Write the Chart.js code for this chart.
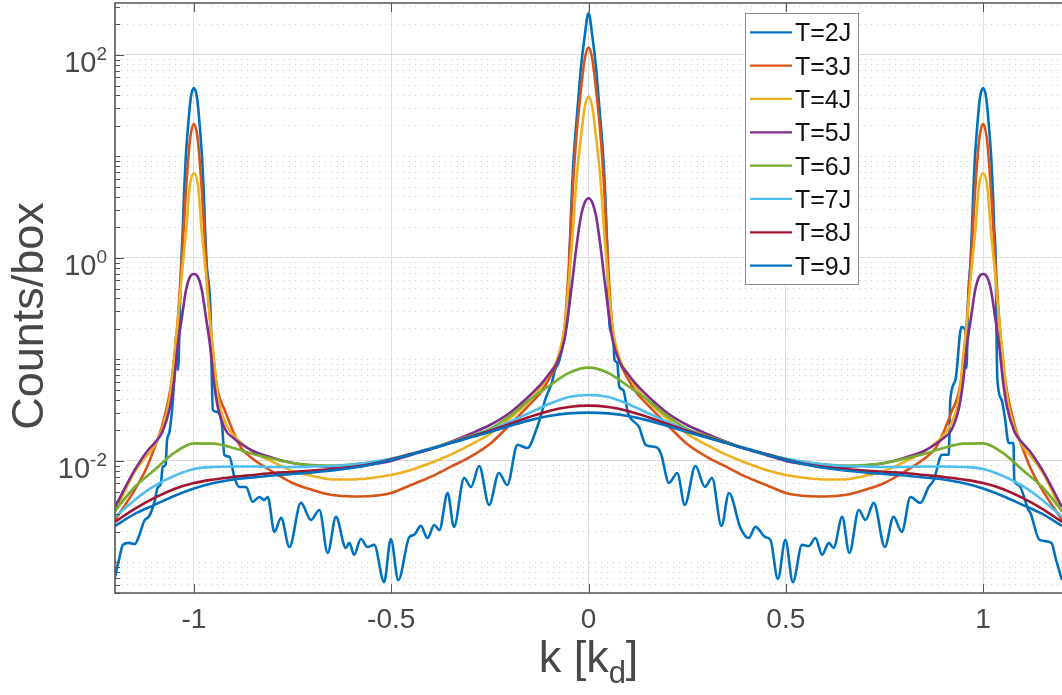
<!DOCTYPE html>
<html>
<head>
<meta charset="utf-8">
<script src="https://cdn.jsdelivr.net/npm/chart.js@4/dist/chart.umd.min.js"></script>
<style>
  html, body { margin: 0; padding: 0; background: #fff; }
  #wrap { width: 1062px; height: 695px; position: relative; }
</style>
</head>
<body>
<div id="wrap"><canvas id="grafico"></canvas></div>
<script>
const seriesLabels = ['T=2J', 'T=3J', 'T=4J', 'T=5J', 'T=6J', 'T=7J', 'T=8J', 'T=9J'];
const seriesColors = ['#0072BD', '#D95319', '#EDB120', '#7E2F8E', '#77AC30', '#4DBEEE', '#A2142F', '#0072BD'];

const xTicks = [-1, -0.5, 0, 0.5, 1];
const xTickLabels = ['-1', '-0.5', '0', '0.5', '1'];
const yTickExponents = [-2, 0, 2];
const xTitle = ['k [k', 'd', ']'];
const yTitle = 'Counts/box';

// T=2J, read point by point (oscillating curve)
const kT2 = [
  -1.2, -1.19, -1.18, -1.165, -1.15, -1.138, -1.126, -1.113, -1.1, -1.092,
  -1.084, -1.079, -1.072, -1.068, -1.062, -1.05, -1.045, -1.04, -1.035, -1.032,
  -1.028, -1.025, -1.021, -1.015, -1.008, -1.0, -0.992, -0.985, -0.979, -0.975,
  -0.972, -0.968, -0.957, -0.955, -0.952, -0.94, -0.928, -0.923, -0.91, -0.897,
  -0.885, -0.868, -0.851, -0.834, -0.822, -0.813, -0.796, -0.779, -0.758, -0.729,
  -0.703, -0.682, -0.661, -0.64, -0.615, -0.606, -0.594, -0.577, -0.56, -0.543,
  -0.518, -0.501, -0.482, -0.454, -0.442, -0.425, -0.408, -0.391, -0.378, -0.357,
  -0.341, -0.315, -0.298, -0.277, -0.252, -0.227, -0.206, -0.18, -0.155, -0.13,
  -0.12, -0.11, -0.1, -0.093, -0.085, -0.075, -0.065, -0.058, -0.05, -0.048,
  -0.046, -0.043, -0.039, -0.033, -0.026, -0.019, -0.01, 0,
  0.01, 0.019, 0.026, 0.033, 0.039, 0.043, 0.046, 0.048, 0.05, 0.055,
  0.062, 0.066, 0.073, 0.078, 0.088, 0.1, 0.128, 0.145, 0.17, 0.183,
  0.204, 0.225, 0.244, 0.271, 0.295, 0.313, 0.337, 0.356, 0.385, 0.406,
  0.423, 0.448, 0.461, 0.48, 0.499, 0.518, 0.541, 0.558, 0.575, 0.592,
  0.609, 0.621, 0.643, 0.661, 0.685, 0.702, 0.723, 0.751, 0.773, 0.794,
  0.816, 0.841, 0.862, 0.875, 0.896, 0.913, 0.917, 0.93, 0.945, 0.955,
  0.958, 0.962, 0.968, 0.972, 0.975, 0.979, 0.985, 0.992, 1.0, 1.008,
  1.015, 1.021, 1.025, 1.028, 1.032, 1.034, 1.036, 1.047, 1.055, 1.065,
  1.077, 1.079, 1.09, 1.115, 1.12, 1.143, 1.173, 1.185, 1.2
];
const countsT2 = [
  0.00072, 0.00106, 0.00149, 0.00156, 0.00152, 0.00187, 0.00256, 0.00287, 0.00395, 0.00542,
  0.00593, 0.00873, 0.00913, 0.0161, 0.0193, 0.0628, 0.174, 0.0788, 0.386, 0.913,
  2.02, 4.37, 9.24, 19.5, 37.7, 47.3, 37.7, 19.5, 9.24, 4.37,
  2.02, 0.913, 0.229, 0.0788, 0.0318, 0.0304, 0.0211, 0.0115, 0.0110, 0.0068,
  0.00554, 0.00554, 0.00395, 0.00442, 0.00413, 0.00442, 0.00200, 0.00275, 0.00142, 0.00386,
  0.00262, 0.00329, 0.00124, 0.00281, 0.00139, 0.00156, 0.00119, 0.00170, 0.00142, 0.00149,
  0.00064, 0.00170, 0.00067, 0.00178, 0.00187, 0.00229, 0.00174, 0.00234, 0.00209, 0.00484,
  0.00224, 0.00680, 0.00554, 0.00893, 0.00369, 0.00762, 0.00580, 0.0144, 0.0134, 0.0216,
  0.0284, 0.0399, 0.0501, 0.0587, 0.0788, 0.0945, 0.139, 0.195, 0.422, 1.12,
  1.76, 3.73, 7.88, 17.0, 36.0, 76.2, 150, 259,
  150, 76.2, 36.0, 17.0, 7.88, 3.73, 1.76, 1.12, 0.422, 0.195,
  0.174, 0.0989, 0.0924, 0.0536, 0.0501, 0.0297, 0.0216, 0.0144, 0.0137, 0.0120,
  0.00607, 0.00762, 0.00369, 0.00893, 0.00554, 0.00680, 0.00229, 0.00484, 0.00219, 0.00174,
  0.00224, 0.00178, 0.00167, 0.00069, 0.00167, 0.00064, 0.00149, 0.00145, 0.00174, 0.00119,
  0.00156, 0.00139, 0.00281, 0.00124, 0.00329, 0.00262, 0.00386, 0.00142, 0.00281, 0.00200,
  0.00442, 0.00386, 0.00554, 0.00650, 0.0115, 0.0115, 0.0399, 0.0628, 0.209, 0.195,
  0.0825, 0.386, 0.913, 2.02, 4.37, 9.24, 19.5, 37.7, 47.3, 37.7,
  19.5, 9.24, 4.37, 2.02, 0.913, 0.182, 0.0657, 0.0399, 0.0271, 0.0150,
  0.0150, 0.0065, 0.0058, 0.00329, 0.00307, 0.00167, 0.00156, 0.00106, 0.00067
];

// T=3J..5J, denser near the three peaks
const kPeak = [
  -1.2, -1.15, -1.12, -1.1, -1.08, -1.06, -1.05, -1.04, -1.03, -1.02,
  -1.01, -1.0, -0.99, -0.98, -0.97, -0.96, -0.95, -0.94, -0.92, -0.9,
  -0.88, -0.85, -0.8, -0.75, -0.7, -0.65, -0.6, -0.55, -0.5, -0.45,
  -0.4, -0.35, -0.3, -0.25, -0.2, -0.15, -0.12, -0.1, -0.08, -0.06,
  -0.05, -0.04, -0.03, -0.02, -0.01, 0,
  0.01, 0.02, 0.03, 0.04, 0.05, 0.06, 0.08, 0.1, 0.12, 0.15,
  0.2, 0.25, 0.3, 0.35, 0.4, 0.45, 0.5, 0.55, 0.6, 0.65,
  0.7, 0.75, 0.8, 0.85, 0.88, 0.9, 0.92, 0.94, 0.95, 0.96,
  0.97, 0.98, 0.99, 1.0, 1.01, 1.02, 1.03, 1.04, 1.05, 1.06,
  1.08, 1.1, 1.12, 1.15, 1.2
];
const countsT3 = [
  0.00262, 0.00518, 0.00853, 0.0134, 0.0226, 0.0500, 0.0989, 0.274, 1.07, 4.68,
  14.5, 20.9, 14.5, 4.68, 1.07, 0.274, 0.0989, 0.0500, 0.0304, 0.0193,
  0.0134, 0.01046, 0.00779, 0.00607, 0.00518, 0.00462, 0.00447, 0.00452, 0.00484, 0.00580,
  0.00696, 0.00873, 0.01095, 0.0147, 0.0226, 0.0357, 0.0479, 0.0643, 0.0944, 0.219,
  0.834, 4.68, 17.1, 42.3, 89.3, 118,
  89.3, 42.3, 17.1, 4.68, 0.834, 0.219, 0.0944, 0.0643, 0.0479, 0.0357,
  0.0226, 0.0147, 0.01095, 0.00873, 0.00696, 0.00580, 0.00484, 0.00452, 0.00447, 0.00462,
  0.00518, 0.00607, 0.00779, 0.01046, 0.0134, 0.0193, 0.0304, 0.0500, 0.0989, 0.274,
  1.07, 4.68, 14.5, 20.9, 14.5, 4.68, 1.07, 0.274, 0.0989, 0.0500,
  0.0226, 0.0134, 0.00853, 0.00518, 0.00262
];
const countsT4 = [
  0.00315, 0.00779, 0.01120, 0.01406, 0.0211, 0.0447, 0.111, 0.257, 0.728, 1.80,
  5.24, 6.83, 5.24, 1.80, 0.728, 0.257, 0.111, 0.0447, 0.0237, 0.0180,
  0.0150, 0.01227, 0.00978, 0.00797, 0.00712, 0.00657, 0.00657, 0.00680, 0.00728, 0.00815,
  0.00956, 0.01146, 0.01438, 0.0185, 0.0260, 0.0390, 0.0536, 0.0720, 0.0989, 0.219,
  0.568, 1.76, 6.14, 14.5, 30.1, 38.8,
  30.1, 14.5, 6.14, 1.76, 0.568, 0.219, 0.0989, 0.0720, 0.0536, 0.0390,
  0.0260, 0.0185, 0.01438, 0.01146, 0.00956, 0.00815, 0.00728, 0.00680, 0.00657, 0.00657,
  0.00712, 0.00797, 0.00978, 0.01227, 0.0150, 0.0180, 0.0237, 0.0447, 0.111, 0.257,
  0.728, 1.80, 5.24, 6.83, 5.24, 1.80, 0.728, 0.257, 0.111, 0.0447,
  0.0211, 0.01406, 0.01120, 0.00779, 0.00315
];
const countsT5 = [
  0.00352, 0.00815, 0.01227, 0.0150, 0.0193, 0.0348, 0.0628, 0.1455, 0.268, 0.484,
  0.650, 0.695, 0.650, 0.484, 0.268, 0.1455, 0.0628, 0.0348, 0.0202, 0.01685,
  0.0147, 0.01254, 0.01071, 0.00956, 0.00903, 0.00873, 0.00873, 0.00924, 0.0100, 0.01146,
  0.0131, 0.0154, 0.0185, 0.0226, 0.0297, 0.0437, 0.0574, 0.0720, 0.0924, 0.163,
  0.308, 0.635, 1.34, 2.48, 3.48, 3.87,
  3.48, 2.48, 1.34, 0.635, 0.308, 0.163, 0.0924, 0.0720, 0.0574, 0.0437,
  0.0297, 0.0226, 0.0185, 0.0154, 0.0131, 0.01146, 0.0100, 0.00924, 0.00873, 0.00873,
  0.00903, 0.00956, 0.01071, 0.01254, 0.0147, 0.01685, 0.0202, 0.0348, 0.0628, 0.1455,
  0.268, 0.484, 0.650, 0.695, 0.650, 0.484, 0.268, 0.1455, 0.0628, 0.0348,
  0.0193, 0.0150, 0.01227, 0.00815, 0.00352
];

// T=6J..9J, smooth curves
const kSmooth = [
  -1.2, -1.15, -1.1, -1.05, -1.0, -0.95, -0.9, -0.85, -0.8, -0.75,
  -0.7, -0.65, -0.6, -0.55, -0.5, -0.45, -0.4, -0.35, -0.3, -0.25,
  -0.2, -0.15, -0.1, -0.05, 0, 0.05, 0.1, 0.15, 0.2, 0.25,
  0.3, 0.35, 0.4, 0.45, 0.5, 0.55, 0.6, 0.65, 0.7, 0.75,
  0.8, 0.85, 0.9, 0.95, 1.0, 1.05, 1.1, 1.15, 1.2
];
const countsT6 = [
  0.00322, 0.00554, 0.00815, 0.0120, 0.0149, 0.0148, 0.0134, 0.0117, 0.0105, 0.00956,
  0.00913, 0.00903, 0.00924, 0.00966, 0.0105, 0.0117, 0.0133, 0.0152, 0.0176, 0.0207,
  0.0277, 0.0399, 0.0548, 0.0736, 0.0830, 0.0736, 0.0548, 0.0399, 0.0277, 0.0207,
  0.0176, 0.0152, 0.0133, 0.0117, 0.0105, 0.00966, 0.00924, 0.00903, 0.00913, 0.00956,
  0.0105, 0.0117, 0.0134, 0.0148, 0.0149, 0.0120, 0.00815, 0.00554, 0.00322
];
const countsT7 = [
  0.00281, 0.00413, 0.00567, 0.00712, 0.00834, 0.00873, 0.00883, 0.00883, 0.00873, 0.00873,
  0.00883, 0.00893, 0.00924, 0.00978, 0.0105, 0.0117, 0.0133, 0.0150, 0.0172, 0.0202,
  0.0242, 0.0297, 0.0364, 0.0427, 0.0447, 0.0427, 0.0364, 0.0297, 0.0242, 0.0202,
  0.0172, 0.0150, 0.0133, 0.0117, 0.0105, 0.00978, 0.00924, 0.00893, 0.00883, 0.00873,
  0.00873, 0.00883, 0.00883, 0.00873, 0.00834, 0.00712, 0.00567, 0.00413, 0.00281
];
const countsT8 = [
  0.00251, 0.00337, 0.00432, 0.00530, 0.00607, 0.00657, 0.00696, 0.00728, 0.00762, 0.00779,
  0.00806, 0.00834, 0.00873, 0.00934, 0.01035, 0.0117, 0.0131, 0.0150, 0.0172, 0.0198,
  0.0231, 0.0271, 0.0311, 0.0340, 0.0351, 0.0340, 0.0311, 0.0271, 0.0231, 0.0198,
  0.0172, 0.0150, 0.0131, 0.0117, 0.01035, 0.00934, 0.00873, 0.00834, 0.00806, 0.00779,
  0.00762, 0.00728, 0.00696, 0.00657, 0.00607, 0.00530, 0.00432, 0.00337, 0.00251
];
const countsT9 = [
  0.00229, 0.00301, 0.00369, 0.00452, 0.00536, 0.00607, 0.00657, 0.00688, 0.00720, 0.00745,
  0.00770, 0.00806, 0.00853, 0.00924, 0.01023, 0.0116, 0.0131, 0.0150, 0.0170, 0.0193,
  0.0221, 0.0251, 0.0277, 0.0294, 0.0299, 0.0294, 0.0277, 0.0251, 0.0221, 0.0193,
  0.0170, 0.0150, 0.0131, 0.0116, 0.01023, 0.00924, 0.00853, 0.00806, 0.00770, 0.00745,
  0.00720, 0.00688, 0.00657, 0.00607, 0.00536, 0.00452, 0.00369, 0.00301, 0.00229
];

const yMin = 5.0e-4;
const yMax = 325;
const fuente = "'Liberation Sans', Arial, Helvetica, sans-serif";
const grisEje = '#555555';
const grisTexto = '#484848';

function esMayor(v) {
  const e = Math.log10(v);
  return yTickExponents.some(t => Math.abs(e - t) < 1e-6);
}

const series = [
  [kT2, countsT2], [kPeak, countsT3], [kPeak, countsT4], [kPeak, countsT5],
  [kSmooth, countsT6], [kSmooth, countsT7], [kSmooth, countsT8], [kSmooth, countsT9]
];

const datasets = series.map(([ks, vs], i) => ({
  label: seriesLabels[i],
  data: ks.map((k, j) => ({ x: k, y: vs[j] })),
  borderColor: seriesColors[i],
  backgroundColor: seriesColors[i],
  borderWidth: 2.6,
  pointRadius: 0,
  fill: false,
  cubicInterpolationMode: 'monotone',
  order: series.length - i
}));

const decoracion = {
  id: 'decoracion',
  afterDatasetsDraw(chart) {
    const { ctx, chartArea: a, scales: { x, y } } = chart;
    ctx.save();

    // inward tick marks
    ctx.strokeStyle = grisEje;
    ctx.lineWidth = 1;
    ctx.beginPath();
    xTicks.forEach(v => {
      const px = Math.round(x.getPixelForValue(v)) + 0.5;
      ctx.moveTo(px, a.bottom); ctx.lineTo(px, a.bottom - 9);
      ctx.moveTo(px, a.top); ctx.lineTo(px, a.top + 9);
    });
    y.ticks.forEach(t => {
      const py = Math.round(y.getPixelForValue(t.value)) + 0.5;
      const len = esMayor(t.value) ? 9 : 5;
      ctx.moveTo(a.left, py); ctx.lineTo(a.left + len, py);
    });
    ctx.stroke();

    // axes box
    ctx.lineWidth = 1.6;
    ctx.beginPath();
    ctx.moveTo(a.right, a.top);
    ctx.lineTo(a.left, a.top);
    ctx.lineTo(a.left, a.bottom);
    ctx.lineTo(a.right, a.bottom);
    ctx.stroke();

    // y tick labels 10^e
    ctx.fillStyle = grisTexto;
    ctx.textAlign = 'right';
    ctx.textBaseline = 'alphabetic';
    yTickExponents.forEach(e => {
      const py = y.getPixelForValue(Math.pow(10, e));
      const sup = String(e);
      const right = a.left - 8;
      ctx.font = '19px ' + fuente;
      ctx.fillText(sup, right, py + 5);
      const w = ctx.measureText(sup).width;
      ctx.font = '29px ' + fuente;
      ctx.fillText('10', right - w, py + 17);
    });

    // y title
    ctx.font = '45px ' + fuente;
    ctx.textAlign = 'center';
    ctx.save();
    ctx.translate(a.left - 72, (a.top + a.bottom) / 2 + 18);
    ctx.rotate(-Math.PI / 2);
    ctx.fillText(yTitle, 0, 0);
    ctx.restore();

    // x title with subscript
    const base = a.bottom + 79;
    ctx.textAlign = 'left';
    ctx.font = '45px ' + fuente;
    const w1 = ctx.measureText(xTitle[0]).width;
    const w3 = ctx.measureText(xTitle[2]).width;
    ctx.font = '31px ' + fuente;
    const w2 = ctx.measureText(xTitle[1]).width;
    let x0 = (a.left + a.right) / 2 - (w1 + w2 + w3) / 2;
    ctx.font = '45px ' + fuente;
    ctx.fillText(xTitle[0], x0, base);
    ctx.font = '31px ' + fuente;
    ctx.fillText(xTitle[1], x0 + w1, base + 11);
    ctx.font = '45px ' + fuente;
    ctx.fillText(xTitle[2], x0 + w1 + w2, base);

    ctx.restore();
  },
  afterDraw(chart) {
    const { ctx } = chart;
    ctx.save();
    const box = { left: 745, top: 13, width: 113, height: 271 };
    ctx.fillStyle = '#ffffff';
    ctx.fillRect(box.left, box.top, box.width, box.height);
    ctx.strokeStyle = '#8c8c8c';
    ctx.lineWidth = 1;
    ctx.strokeRect(box.left + 0.5, box.top + 0.5, box.width, box.height);
    ctx.font = '25px ' + fuente;
    ctx.textAlign = 'left';
    ctx.textBaseline = 'alphabetic';
    chart.data.datasets.forEach((ds, i) => {
      const cy = box.top + 19.3 + 33.33 * i;
      ctx.strokeStyle = ds.borderColor;
      ctx.lineWidth = 2.2;
      ctx.beginPath();
      ctx.moveTo(750, cy);
      ctx.lineTo(792, cy);
      ctx.stroke();
      ctx.fillStyle = '#111111';
      ctx.fillText(ds.label, 795, cy + 9);
    });
    ctx.restore();
  }
};

const ctx = document.getElementById('grafico').getContext('2d');
window.grafico = new Chart(ctx, {
  type: 'line',
  data: { datasets },
  plugins: [decoracion],
  options: {
    responsive: true,
    maintainAspectRatio: false,
    animation: false,
    events: [],
    layout: { padding: { left: 0, right: 0, top: 3, bottom: 0 } },
    plugins: {
      legend: { display: false },
      tooltip: { enabled: false }
    },
    scales: {
      x: {
        type: 'linear',
        min: -1.2,
        max: 1.2,
        afterBuildTicks: s => { s.ticks = xTicks.map(v => ({ value: v })); },
        afterFit: s => { s.height = 102; },
        grid: { color: '#dedede', lineWidth: 1, drawTicks: false },
        border: { display: false },
        ticks: {
          callback: (v, i) => xTickLabels[i],
          color: grisTexto,
          font: { family: fuente, size: 28 },
          padding: 10,
          maxRotation: 0,
          autoSkip: false
        }
      },
      y: {
        type: 'logarithmic',
        min: yMin,
        max: yMax,
        afterBuildTicks: s => {
          const vals = [];
          for (let e = -4; e <= 2; e++) {
            for (let m = 1; m <= 9; m++) {
              const v = m * Math.pow(10, e);
              if (v >= yMin && v <= yMax) vals.push(v);
            }
          }
          s.ticks = vals.map(v => ({ value: v }));
        },
        afterFit: s => { s.width = 115; },
        grid: {
          color: c => (c.tick && esMayor(c.tick.value)) ? '#dcdcdc' : '#cdcdcd',
          lineWidth: 1,
          drawTicks: false
        },
        border: {
          display: false,
          dash: c => (c.tick && !esMayor(c.tick.value)) ? [1, 5] : []
        },
        ticks: { display: false }
      }
    }
  }
});
</script>
</body>
</html>
